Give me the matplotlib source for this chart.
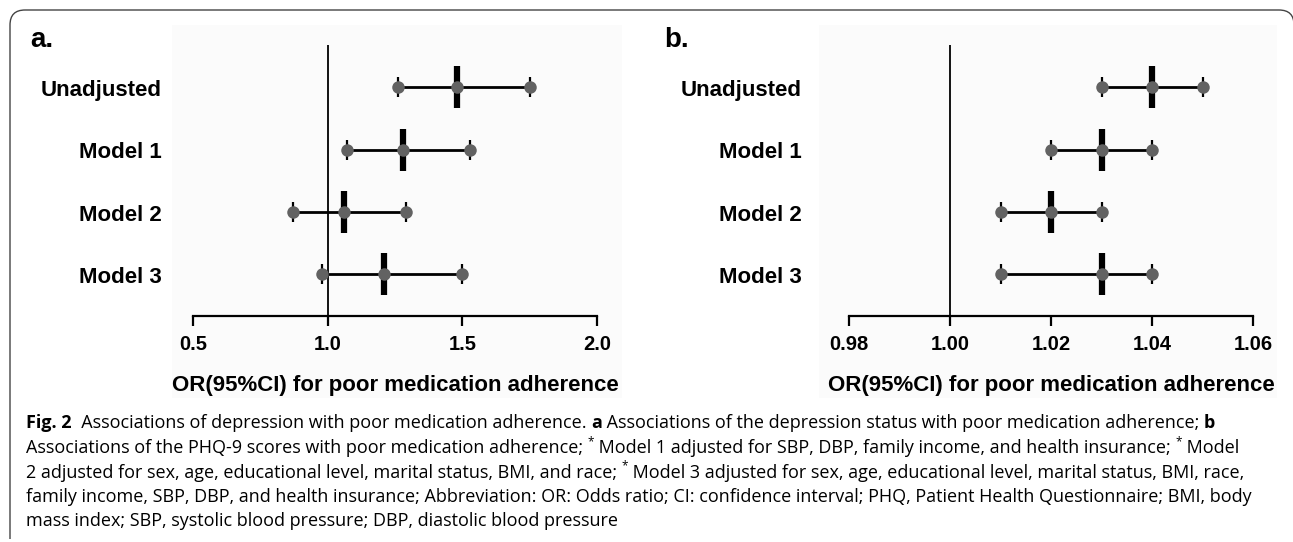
import matplotlib
matplotlib.use('Agg')
import matplotlib.pyplot as plt
import matplotlib.transforms as mtransforms
from matplotlib.patches import Rectangle, PathPatch
from matplotlib.path import Path

# ==========================================================
# DADOS
# ==========================================================
modelos = ['Unadjusted', 'Model 1', 'Model 2', 'Model 3']

# painel a: status de depressão
or_a = [1.48, 1.28, 1.06, 1.21]
lo_a = [1.26, 1.07, 0.87, 0.98]
hi_a = [1.75, 1.53, 1.29, 1.50]
ticks_a = [0.5, 1.0, 1.5, 2.0]
ticklabels_a = ['0.5', '1.0', '1.5', '2.0']

# painel b: escore PHQ-9
or_b = [1.04, 1.03, 1.02, 1.03]
lo_b = [1.03, 1.02, 1.01, 1.01]
hi_b = [1.05, 1.04, 1.03, 1.04]
ticks_b = [0.98, 1.00, 1.02, 1.04, 1.06]
ticklabels_b = ['0.98', '1.00', '1.02', '1.04', '1.06']

xlabel = 'OR(95%CI) for poor medication adherence'

# legenda (texto, estilo) -> 'n' normal, 'b' negrito, 's' sobrescrito
legenda = [
    [('Fig. 2', 'b'), ('  Associations of depression with poor medication adherence. ', 'n'), ('a', 'b'),
     (' Associations of the depression status with poor medication adherence; ', 'n'), ('b', 'b')],
    [('Associations of the PHQ-9 scores with poor medication adherence; ', 'n'), ('*', 's'),
     (' Model 1 adjusted for SBP, DBP, family income, and health insurance; ', 'n'), ('*', 's'), (' Model', 'n')],
    [('2 adjusted for sex, age, educational level, marital status, BMI, and race; ', 'n'), ('*', 's'),
     (' Model 3 adjusted for sex, age, educational level, marital status, BMI, race,', 'n')],
    [('family income, SBP, DBP, and health insurance; Abbreviation: OR: Odds ratio; CI: confidence interval; '
      'PHQ, Patient Health Questionnaire; BMI, body', 'n')],
    [('mass index; SBP, systolic blood pressure; DBP, diastolic blood pressure', 'n')],
]

# ==========================================================
# FIGURA
# ==========================================================
W, H = 1293, 542
fig = plt.figure(figsize=(W / 100, H / 100), dpi=100)
fig.patch.set_facecolor('white')

def fx(px):
    return px / W

def fy(py):
    return (H - py) / H

fonte = 'Liberation Sans'
fonte_leg = ['Open Sans', 'DejaVu Sans']

# moldura arredondada (aberta embaixo)
r = 15
pts = [(10, 539), (10, 10 + r), (10, 10), (10 + r, 10), (1294 - r, 10), (1294, 10), (1294, 10 + r), (1294, 539)]
codes = [Path.MOVETO, Path.LINETO, Path.CURVE3, Path.CURVE3, Path.LINETO, Path.CURVE3, Path.CURVE3, Path.LINETO]
moldura = PathPatch(Path([(fx(a), fy(b)) for a, b in pts], codes), transform=fig.transFigure,
                    facecolor='none', edgecolor='#444444', linewidth=1.0, zorder=-2)
fig.patches.append(moldura)

# fundos cinza claro das imagens
for x0, x1 in [(172, 622), (819, 1277)]:
    fig.patches.append(Rectangle((fx(x0), fy(398)), fx(x1) - fx(x0), fy(25) - fy(398),
                                 transform=fig.transFigure, facecolor='#fbfbfb',
                                 edgecolor='none', zorder=-1))

y_pos = [4, 3, 2, 1]


def painel(x_esq, x_dir, lo, est, hi, ticks, ticklabels, xref, x_rotulo, letra, x_letra):
    ax = fig.add_axes([fx(x_esq), fy(316), fx(x_dir) - fx(x_esq), fy(45) - fy(316)])
    ax.set_zorder(2)
    ax.patch.set_alpha(0)
    ax.set_xlim(ticks[0], ticks[-1])
    ax.set_ylim(0.331, 4.679)

    ax.axvline(xref, color='black', linewidth=1.3, zorder=1)
    for y, l, e, h in zip(y_pos, lo, est, hi):
        ax.plot([l, h], [y, y], color='black', linewidth=2.0, zorder=2)
        ax.plot([l, h], [y, y], ls='none', marker='|', markersize=15, markeredgewidth=1.6,
                color='black', zorder=3)
        ax.plot([e], [y], ls='none', marker='|', markersize=30, markeredgewidth=4.5,
                color='black', zorder=3)
        ax.plot([l, e, h], [y, y, y], ls='none', marker='o', markersize=9,
                color='#626262', markeredgewidth=0, zorder=4)

    for s in ['top', 'right', 'left']:
        ax.spines[s].set_visible(False)
    ax.spines['bottom'].set_linewidth(1.6)
    ax.set_yticks([])
    ax.set_xticks(ticks)
    ax.set_xticklabels(ticklabels, fontsize=14.5, fontweight='bold', family=fonte)
    ax.tick_params(axis='x', direction='out', length=7.5, width=1.6, pad=6)

    trans = mtransforms.blended_transform_factory(fig.transFigure, ax.transData)
    trans = mtransforms.offset_copy(trans, fig=fig, y=-6.3, units='points')
    for y, nome in zip(y_pos, modelos):
        ax.text(fx(x_rotulo), y, nome, transform=trans, ha='right', va='baseline',
                fontsize=16, fontweight='bold', family=fonte)

    centro = (x_esq + x_dir) / 2
    fig.text(fx(centro), fy(385), xlabel, ha='center', va='center', fontsize=16,
             fontweight='bold', family=fonte)
    fig.text(fx(x_letra), fy(47), letra, ha='left', va='baseline', fontsize=20,
             fontweight='bold', family=fonte)
    return ax


ax1 = painel(193, 597, lo_a, or_a, hi_a, ticks_a, ticklabels_a, 1.0, 162, 'a.', 30)
ax2 = painel(849, 1253, lo_b, or_b, hi_b, ticks_b, ticklabels_b, 1.0, 802, 'b.', 664)

# ==========================================================
# LEGENDA DA FIGURA
# ==========================================================
renderer = fig.canvas.get_renderer()
baselines = [428, 453, 477.5, 502, 526.5]
tam = 13.0
for linha, yb in zip(legenda, baselines):
    x = 26
    for texto, estilo in linha:
        kw = dict(family=fonte_leg, fontsize=tam, va='baseline', ha='left')
        y = yb
        if estilo == 'b':
            kw['fontweight'] = 'bold'
        elif estilo == 's':
            kw['fontsize'] = tam * 0.65
            y = yb - 8
        t = fig.text(fx(x), fy(y), texto, **kw)
        x = t.get_window_extent(renderer).x1

fig.savefig('out.png', dpi=100, facecolor='white')
